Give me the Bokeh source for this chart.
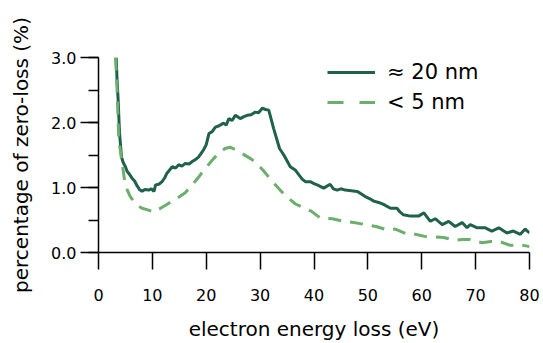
from bokeh.plotting import figure
from bokeh.models import (Range1d, FixedTicker, SingleIntervalTicker, Legend, LegendItem,
                          ColumnDataSource, CustomJSTickFormatter)
from bokeh.embed import file_html
from bokeh.resources import INLINE

# ≈ 20 nm
e_20 = [3.28, 3.45, 3.65, 3.9, 4.27, 4.6, 5.0, 5.3, 5.6, 6.25, 6.7, 7.2, 7.6, 8.1, 8.6, 9.3, 9.8, 10.3, 10.6,
        11.2, 11.8, 12.3, 12.7, 13.2, 13.7, 14.3, 14.9, 15.5, 16.1, 16.8, 17.4, 18.0, 18.6, 19.5, 20.0, 20.5,
        21.1, 21.7, 22.4, 23.2, 23.7, 24.2, 24.8, 25.4, 26.3, 27.0, 27.6, 28.3, 29.1, 29.7, 30.4, 31.0, 31.6,
        32.5, 33.6, 34.4, 35.6, 36.5, 37.8, 38.4, 39.3, 40.0, 40.6, 41.8, 43.0, 43.6, 44.3, 45.0, 45.8, 46.9,
        48.0, 48.8, 49.5, 50.3, 51.1, 52.0, 52.9, 54.2, 55.4, 56.0, 56.6, 57.9, 59.4, 60.4, 61.6, 62.5, 63.8,
        65.0, 66.2, 67.5, 68.4, 69.0, 70.3, 71.8, 73.0, 74.3, 75.8, 77.0, 78.3, 79.2, 80.0]
v_20 = [3.0, 2.65, 2.34, 1.84, 1.47, 1.38, 1.32, 1.25, 1.22, 1.14, 1.10, 1.02, 0.97, 0.94, 0.97, 0.96, 0.98, 0.94, 1.04,
        1.05, 1.09, 1.15, 1.22, 1.27, 1.32, 1.30, 1.35, 1.33, 1.37, 1.36, 1.40, 1.43, 1.47, 1.58, 1.66, 1.83,
        1.86, 1.93, 1.95, 1.99, 1.96, 2.06, 2.03, 2.11, 2.06, 2.09, 2.11, 2.12, 2.16, 2.15, 2.22, 2.20, 2.19,
        1.91, 1.60, 1.50, 1.32, 1.27, 1.13, 1.09, 1.09, 1.06, 1.04, 0.99, 1.05, 0.98, 0.96, 0.98, 0.96, 0.95,
        0.94, 0.90, 0.86, 0.83, 0.79, 0.77, 0.74, 0.68, 0.68, 0.62, 0.58, 0.56, 0.56, 0.61, 0.48, 0.52, 0.43,
        0.48, 0.40, 0.46, 0.38, 0.43, 0.38, 0.38, 0.33, 0.38, 0.30, 0.33, 0.28, 0.36, 0.30]

# < 5 nm
e_5 = [3.15, 3.4, 3.77, 4.4, 4.9, 5.4, 5.9, 6.6, 7.3, 8.1, 9.0, 10.3, 11.5, 12.9, 14.7, 16.1, 17.6, 18.5, 19.4,
       21.1, 22.0, 22.6, 23.5, 24.4, 25.5, 26.5, 28.3, 29.5, 30.7, 32.4, 33.5, 34.5, 36.5, 38.0, 39.4, 41.2,
       43.4, 45.5, 47.4, 49.5, 51.5, 53.5, 55.1, 57.1, 58.8, 61.0, 62.5, 64.1, 66.2, 67.5, 69.0, 71.2, 72.8,
       74.4, 76.4, 78.3, 80.0]
v_5 = [3.0, 2.6, 1.73, 1.37, 1.07, 0.95, 0.86, 0.78, 0.72, 0.68, 0.66, 0.62, 0.68, 0.75, 0.84, 0.92, 1.06, 1.15, 1.25,
       1.42, 1.50, 1.55, 1.60, 1.62, 1.58, 1.53, 1.44, 1.36, 1.25, 1.08, 0.98, 0.89, 0.75, 0.69, 0.64, 0.53,
       0.52, 0.48, 0.46, 0.43, 0.40, 0.35, 0.36, 0.29, 0.28, 0.24, 0.24, 0.23, 0.19, 0.20, 0.20, 0.15, 0.17,
       0.17, 0.11, 0.12, 0.09]

labels = ["≈ 20 nm", "< 5 nm"]
x_ticks = [0, 10, 20, 30, 40, 50, 60, 70, 80]

DARK = "#1f614a"
LIGHT = "#6cae6c"
FONT = "DejaVu Sans"

p = figure(width=543, height=343, output_backend="svg", toolbar_location=None,
           x_range=Range1d(0, 80), y_range=Range1d(0, 3.0),
           min_border_left=98, min_border_right=14, min_border_top=57, min_border_bottom=90)
p.outline_line_color = None
p.xgrid.visible = False
p.ygrid.visible = False
p.background_fill_color = None
p.border_fill_color = "white"

r1 = p.line(e_20, v_20, line_color=DARK, line_width=3)
r2 = p.line(e_5, v_5, line_color=LIGHT, line_width=3, line_dash="13 9")

# legend-only renderers (no visible data)
nan = float("nan")
dummy = ColumnDataSource(dict(x=[nan, nan], y=[nan, nan]))
l1 = p.line("x", "y", source=dummy, line_color=DARK, line_width=3)
l2 = p.line("x", "y", source=dummy, line_color=LIGHT, line_width=3, line_dash="16 16")
legend = Legend(items=[LegendItem(label=labels[0], renderers=[l1]),
                       LegendItem(label=labels[1], renderers=[l2])],
                location=(229, 138), padding=0, margin=0, spacing=6,
                glyph_width=48, glyph_height=24, label_height=24, label_standoff=12,
                label_text_font=FONT, label_text_font_size="21px", label_text_color="black",
                border_line_color=None, background_fill_alpha=0)
p.add_layout(legend, "center")

xa = p.xaxis[0]
xa.ticker = FixedTicker(ticks=x_ticks)
xa.minor_tick_line_color = None
xa.major_tick_out = 17
xa.major_tick_in = 0
xa.major_label_standoff = 19
xa.axis_label = "electron energy loss (eV)"
xa.axis_label_standoff = 13

ya = p.yaxis[0]
ya.ticker = SingleIntervalTicker(interval=1, num_minor_ticks=2)
ya.major_tick_out = 18
ya.major_tick_in = 0
ya.minor_tick_out = 10
ya.minor_tick_in = 0
ya.major_label_standoff = 4
ya.axis_label = "percentage of zero-loss (%)"
ya.axis_label_standoff = 15
ya.formatter = CustomJSTickFormatter(code="return tick.toFixed(1);")

for ax in (xa, ya):
    ax.axis_line_color = "black"
    ax.axis_line_width = 1.5
    ax.major_tick_line_color = "black"
    ax.major_tick_line_width = 1.5
    ax.minor_tick_line_width = 1.5
    ax.major_label_text_font = FONT
    ax.major_label_text_font_size = "16px"
    ax.major_label_text_color = "black"
    ax.axis_label_text_font = FONT
    ax.axis_label_text_font_size = "20px"
    ax.axis_label_text_font_style = "normal"
    ax.axis_label_text_color = "black"
ya.minor_tick_line_color = "black"

open("out.html", "w").write(file_html(p, INLINE))
